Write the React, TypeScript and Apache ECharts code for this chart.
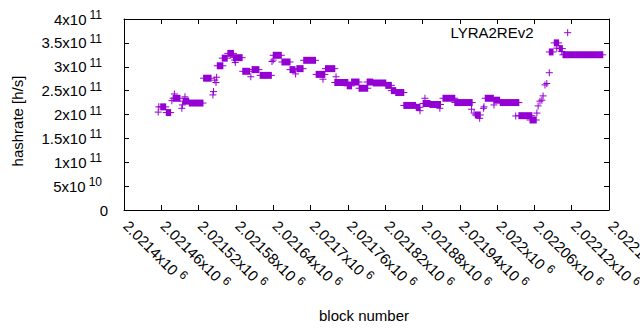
import React, { useEffect, useRef } from 'react';
import * as echarts from 'echarts';

const X_MIN = 2021400;
const X_MAX = 2022180;
const X_STEP = 60;
const Y_MIN = 0;
const Y_MAX = 4e11;
const Y_STEP = 5e10;
const SERIES_NAME = 'LYRA2REv2';
const X_TITLE = 'block number';
const Y_TITLE = 'hashrate [h/s]';
const COLOR = '#9400D3';
const FONT = '"Liberation Sans", Arial, sans-serif';

// tick labels: mantissa and exponent
const xTickMantissa = ['2.0214', '2.02146', '2.02152', '2.02158', '2.02164', '2.0217', '2.02176', '2.02182', '2.02188', '2.02194', '2.022', '2.02206', '2.02212', '2.02218'];
const xTickExponent = '6';
const yTickMantissa = ['0', '5', '1', '1.5', '2', '2.5', '3', '3.5', '4'];
const yTickExponent = ['', '10', '11', '11', '11', '11', '11', '11', '11'];

// runs of consecutive blocks sharing one hashrate estimate (single points have start === end)
const runStart = [2021455, 2021456, 2021459, 2021468, 2021477, 2021479, 2021481, 2021493, 2021494, 2021495, 2021498, 2021505, 2021528, 2021543, 2021544, 2021546, 2021548, 2021549, 2021550, 2021558, 2021567, 2021576, 2021578, 2021579, 2021591, 2021604, 2021606, 2021619, 2021638, 2021640, 2021640, 2021654, 2021667, 2021676, 2021678, 2021689, 2021709, 2021720, 2021724, 2021741, 2021739, 2021759, 2021766, 2021778, 2021791, 2021801, 2021821, 2021830, 2021837, 2021850, 2021870, 2021876, 2021881, 2021884, 2021892, 2021908, 2021913, 2021932, 2021959, 2021963, 2021965, 2021972, 2021978, 2021979, 2021981, 2021995, 2021995, 2022005, 2022030, 2022035, 2022053, 2022064, 2022066, 2022069, 2022072, 2022074, 2022077, 2022080, 2022084, 2022084, 2022092, 2022096, 2022100, 2022104, 2022106];
const runEnd = [2021455, 2021456, 2021467, 2021475, 2021477, 2021490, 2021481, 2021493, 2021494, 2021504, 2021498, 2021527, 2021540, 2021543, 2021544, 2021546, 2021548, 2021549, 2021559, 2021566, 2021576, 2021590, 2021578, 2021579, 2021602, 2021604, 2021617, 2021637, 2021638, 2021640, 2021653, 2021667, 2021675, 2021676, 2021688, 2021708, 2021723, 2021720, 2021739, 2021741, 2021760, 2021766, 2021778, 2021792, 2021800, 2021821, 2021830, 2021837, 2021850, 2021869, 2021876, 2021876, 2021892, 2021884, 2021909, 2021908, 2021932, 2021960, 2021959, 2021963, 2021973, 2021972, 2021978, 2021979, 2021994, 2021995, 2022004, 2022035, 2022030, 2022056, 2022063, 2022064, 2022066, 2022069, 2022072, 2022074, 2022077, 2022080, 2022084, 2022090, 2022099, 2022096, 2022105, 2022104, 2022170];
const runRate = [2.05e11, 2.16e11, 2.16e11, 2.04e11, 2.29e11, 2.34e11, 2.43e11, 2.13e11, 2.2e11, 2.28e11, 2.37e11, 2.24e11, 2.76e11, 2.41e11, 2.48e11, 2.72e11, 2.67e11, 2.78e11, 3.02e11, 3.18e11, 3.28e11, 3.19e11, 3.14e11, 3.09e11, 2.905e11, 2.79e11, 2.94e11, 2.82e11, 3.11e11, 3.14e11, 3.24e11, 3.1e11, 2.94e11, 2.85e11, 2.96e11, 3.135e11, 2.84e11, 2.74e11, 2.96e11, 2.79e11, 2.67e11, 2.6e11, 2.68e11, 2.55e11, 2.68e11, 2.66e11, 2.61e11, 2.5e11, 2.46e11, 2.19e11, 2.15e11, 2.08e11, 2.23e11, 2.34e11, 2.21e11, 2.13e11, 2.34e11, 2.25e11, 2.11e11, 2.03e11, 1.99e11, 1.92e11, 2.13e11, 2.16e11, 2.34e11, 2.2e11, 2.3e11, 2.25e11, 1.97e11, 1.975e11, 1.885e11, 2.03e11, 2.18e11, 2.28e11, 2.3e11, 2.39e11, 2.62e11, 2.65e11, 2.875e11, 3.31e11, 3.5e11, 3.39e11, 3.38e11, 3.32e11, 3.25e11];

const PLUS_HALF = 3.5;

export default function App() {
  const ref = useRef<HTMLDivElement>(null);
  useEffect(() => {
    if (!ref.current) return;
    const chart = echarts.init(ref.current, undefined, { renderer: 'svg' });
    const data = runStart.map((s, i) => [s, runEnd[i], runRate[i]]);
    const axisLineStyle = { color: '#000', width: 1 };
    const tick = { show: true, inside: true, length: 5, lineStyle: { color: '#000', width: 1 } };
    const xRich = {
      a: { fontSize: 15, fontFamily: FONT, color: '#000', padding: [0, 0, 0, 3] },
      s: { fontSize: 12, fontFamily: FONT, color: '#000', padding: [0, 0, 8, 4] },
    };
    const yRich = {
      a: { fontSize: 15, fontFamily: FONT, color: '#000' },
      s: { fontSize: 12, fontFamily: FONT, color: '#000', padding: [0, 6, 8, 3] },
    };
    const option: any = {
      animation: false,
      backgroundColor: '#fff',
      grid: { left: 124, right: 31, top: 19, bottom: 120, containLabel: false, outerBoundsMode: 'none' },
      xAxis: [
        {
          type: 'value', position: 'bottom', min: X_MIN, max: X_MAX, interval: X_STEP,
          axisLine: { show: true, onZero: false, lineStyle: axisLineStyle },
          axisTick: tick, splitLine: { show: false },
          axisLabel: {
            show: true, rotate: -45, margin: 11, showMinLabel: true, showMaxLabel: true, hideOverlap: false,
            formatter: (v: number) => {
              const i = Math.round((v - X_MIN) / X_STEP);
              return `{a|${xTickMantissa[i]}x10}{s|${xTickExponent}}`;
            },
            rich: xRich,
          },
        },
        {
          type: 'value', position: 'top', min: X_MIN, max: X_MAX, interval: X_STEP,
          axisLine: { show: true, onZero: false, lineStyle: axisLineStyle },
          axisTick: tick, splitLine: { show: false }, axisLabel: { show: false },
        },
      ],
      yAxis: [
        {
          type: 'value', position: 'left', min: Y_MIN, max: Y_MAX, interval: Y_STEP,
          axisLine: { show: true, onZero: false, lineStyle: axisLineStyle },
          axisTick: tick, splitLine: { show: false },
          axisLabel: {
            show: true, margin: 16,
            formatter: (v: number) => {
              const i = Math.round(v / Y_STEP);
              if (!yTickExponent[i]) return `{a|${yTickMantissa[i]}}`;
              return `{a|${yTickMantissa[i]}x10}{s|${yTickExponent[i]}}`;
            },
            rich: yRich,
          },
        },
        {
          type: 'value', position: 'right', min: Y_MIN, max: Y_MAX, interval: Y_STEP,
          axisLine: { show: true, onZero: false, lineStyle: axisLineStyle },
          axisTick: tick, splitLine: { show: false }, axisLabel: { show: false },
        },
      ],
      series: [
        {
          type: 'custom',
          name: SERIES_NAME,
          xAxisIndex: 0,
          yAxisIndex: 0,
          encode: { x: [0, 1], y: 2 },
          data,
          renderItem: (params: any, api: any) => {
            const a = api.coord([api.value(0), api.value(2)]);
            const b = api.coord([api.value(1), api.value(2)]);
            return {
              type: 'group',
              children: [
                {
                  type: 'rect',
                  shape: { x: a[0] - 0.5, y: a[1] - PLUS_HALF, width: b[0] - a[0] + 1, height: PLUS_HALF * 2 },
                  style: { fill: COLOR },
                },
                {
                  type: 'line',
                  shape: { x1: a[0] - PLUS_HALF, y1: a[1], x2: b[0] + PLUS_HALF, y2: b[1] },
                  style: { stroke: COLOR, lineWidth: 1 },
                },
              ],
            };
          },
        },
      ],
      graphic: [
        {
          type: 'text', x: 17, y: 121, rotation: Math.PI / 2,
          style: { text: Y_TITLE, fontSize: 15, fontFamily: FONT, fill: '#000', align: 'center', verticalAlign: 'middle' },
        },
        {
          type: 'text', x: 364, y: 315,
          style: { text: X_TITLE, fontSize: 15, fontFamily: FONT, fill: '#000', align: 'center', verticalAlign: 'middle' },
        },
        {
          type: 'text', x: 533.5, y: 32.5,
          style: { text: SERIES_NAME, fontSize: 15, fontFamily: FONT, fill: '#000', align: 'right', verticalAlign: 'middle' },
        },
        {
          type: 'line', shape: { x1: 567.7 - PLUS_HALF, y1: 32.7, x2: 567.7 + PLUS_HALF, y2: 32.7 },
          style: { stroke: COLOR, lineWidth: 1 },
        },
        {
          type: 'line', shape: { x1: 567.7, y1: 32.7 - PLUS_HALF, x2: 567.7, y2: 32.7 + PLUS_HALF },
          style: { stroke: COLOR, lineWidth: 1 },
        },
      ],
    };
    chart.setOption(option);
    return () => chart.dispose();
  }, []);
  return <div ref={ref} style={{ position: 'fixed', left: 0, top: 0, width: 640, height: 330 }} />;
}
